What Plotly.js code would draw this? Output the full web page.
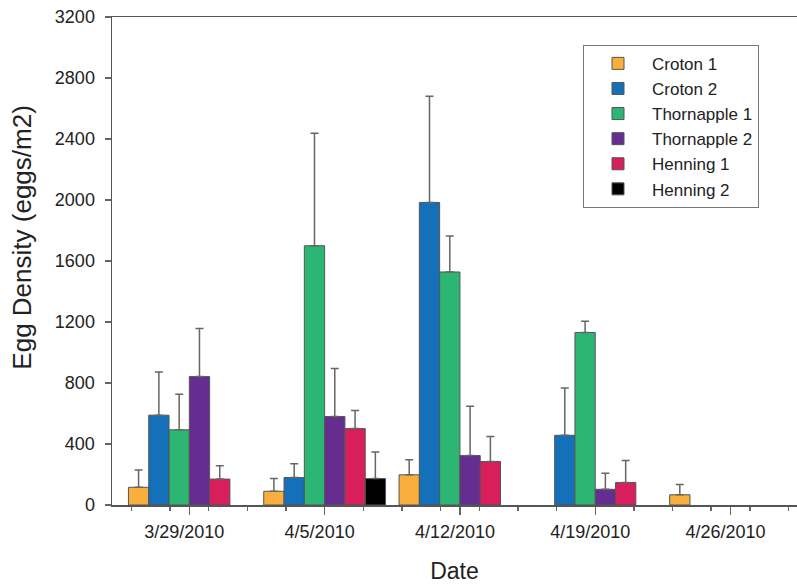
<!DOCTYPE html>
<html>
<head>
<meta charset="utf-8">
<script src="https://cdn.plot.ly/plotly-3.0.1.min.js"></script>
<style>html,body{margin:0;padding:0;background:#fff;}#chart{width:797px;height:588px;}</style>
</head>
<body>
<div id="chart"></div>
<script>
// Sampling dates
var dates = ['2010-03-29', '2010-04-05', '2010-04-12', '2010-04-19', '2010-04-26'];
var tickLabels = ['3/29/2010', '4/5/2010', '4/12/2010', '4/19/2010', '4/26/2010'];

// Series names and colours
var seriesNames = ['Croton 1', 'Croton 2', 'Thornapple 1', 'Thornapple 2', 'Henning 1', 'Henning 2'];
var seriesColors = ['#F9AF3E', '#1570BA', '#2DB673', '#662D91', '#D81E5B', '#000000'];

// Mean egg density (eggs/m2)
var croton1 = [116, 90, 198, null, 67];
var croton2 = [589, 180, 1984, 457, null];
var thornapple1 = [493, 1700, 1528, 1131, null];
var thornapple2 = [842, 580, 324, 103, null];
var henning1 = [170, 501, 285, 147, null];
var henning2 = [null, 173, null, null, null];

// Upper error (standard error)
var croton1Err = [113, 83, 98, null, 67];
var croton2Err = [283, 90, 696, 310, null];
var thornapple1Err = [233, 737, 236, 74, null];
var thornapple2Err = [316, 315, 323, 105, null];
var henning1Err = [87, 119, 165, 144, null];
var henning2Err = [null, 175, null, null, null];

var values = [croton1, croton2, thornapple1, thornapple2, henning1, henning2];
var errors = [croton1Err, croton2Err, thornapple1Err, thornapple2Err, henning1Err, henning2Err];

var yTitle = 'Egg Density (eggs/m2)';
var xTitle = 'Date';

var traces = seriesNames.map(function (name, i) {
  return {
    type: 'bar',
    name: name,
    x: dates,
    y: values[i],
    marker: { color: seriesColors[i], line: { color: '#555555', width: 1 } },
    error_y: {
      type: 'data',
      symmetric: false,
      array: errors[i],
      arrayminus: errors[i].map(function () { return 0; }),
      color: '#666666',
      thickness: 1.5,
      width: 4
    }
  };
});

var layout = {
  width: 797,
  height: 588,
  margin: { l: 112, r: 0, t: 17, b: 83 },
  paper_bgcolor: '#ffffff',
  plot_bgcolor: '#ffffff',
  font: { family: 'Liberation Sans, Arial, sans-serif', color: '#222222', size: 18 },
  barmode: 'group',
  bargap: 0.1,
  bargroupgap: 0,
  showlegend: true,
  legend: {
    x: 0.6876, y: 0.943, xanchor: 'left', yanchor: 'top',
    bgcolor: '#ffffff', bordercolor: '#777777', borderwidth: 1,
    font: { size: 17, color: '#222222' },
    itemwidth: 58,
    tracegroupgap: 0
  },
  annotations: [{
    text: yTitle,
    xref: 'paper', yref: 'paper',
    x: -0.132, y: 0.547,
    xanchor: 'center', yanchor: 'middle',
    textangle: -90,
    showarrow: false,
    font: { size: 26, color: '#222222' }
  }],
  xaxis: {
    type: 'date',
    range: ['2010-03-25 00:00', '2010-04-29 10:30'],
    tickvals: dates,
    ticktext: tickLabels,
    ticks: 'outside',
    ticklen: 8,
    tickwidth: 1.5,
    tickcolor: '#666666',
    ticklabelshift: -5,
    ticklabelstandoff: 2,
    tickfont: { size: 18 },
    minor: { ticks: 'outside', dtick: 2 * 86400000, tick0: '2010-03-26', ticklen: 4, tickwidth: 1.5, tickcolor: '#666666' },
    showline: true,
    linecolor: '#555555',
    linewidth: 1.5,
    mirror: true,
    showgrid: false,
    zeroline: false,
    title: { text: xTitle, font: { size: 23 }, standoff: 22 }
  },
  yaxis: {
    range: [0, 3200],
    tickvals: [0, 400, 800, 1200, 1600, 2000, 2400, 2800, 3200],
    ticks: 'outside',
    ticklen: 6,
    tickwidth: 1.5,
    tickcolor: '#666666',
    ticklabelstandoff: 6,
    tickfont: { size: 18 },
    showline: true,
    linecolor: '#555555',
    linewidth: 1.5,
    showgrid: false,
    zeroline: false
  }
};

Plotly.newPlot('chart', traces, layout, { displayModeBar: false, staticPlot: true });
</script>
</body>
</html>
